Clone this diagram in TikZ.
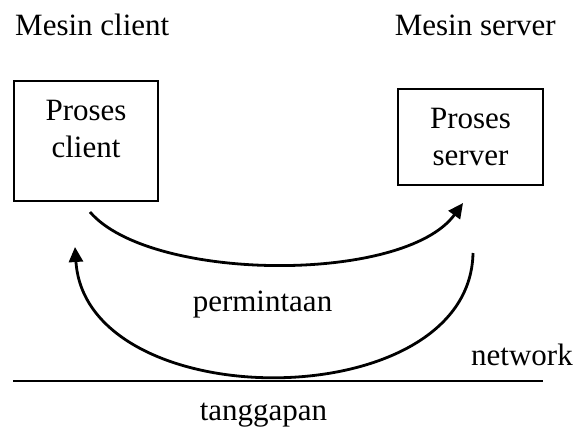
\documentclass[tikz,border=0pt]{standalone}
\usepackage{fontspec}
\setmainfont{Liberation Serif}
\usepackage{tikz}
\usetikzlibrary{arrows.meta}
\tikzset{
  box/.style={draw, line width=1.8pt, inner sep=0pt},
  lbl/.style={font=\fontsize{31}{37.5}\selectfont, inner sep=0pt},
  arc/.style={line width=2.8pt, -{Triangle[length=15pt,width=14pt]}},
  netline/.style={line width=2pt}
}

\begin{document}
\begin{tikzpicture}[x=1pt,y=-1pt]
  \useasboundingbox (0,0) rectangle (577,428);

  \node[lbl, anchor=base west] (clientmachine) at (15,35) {Mesin client};
  \node[lbl, anchor=base east] (servermachine) at (556,35) {Mesin server};

  \node[box, minimum width=144pt, minimum height=120pt] (client) at (86,141) {};
  \node[lbl, align=center, anchor=north] (clienttext) at (86,99.5) {Proses\\client};

  \node[box, minimum width=145pt, minimum height=96pt] (server) at (470.5,137) {};
  \node[lbl, align=center, anchor=north] (servertext) at (470.5,107.5) {Proses\\server};

  \coordinate (reqstart) at (90,212);
  \coordinate (reqend) at (463,203);
  \coordinate (resstart) at (473,253);
  \coordinate (resend) at (75,247);

  \draw[arc] (reqstart) .. controls (150,282) and (404,284) .. (reqend);
  \draw[arc] (resstart) .. controls (470,418) and (86,418) .. (resend);

  \node[lbl, anchor=base] (request) at (262.5,311) {permintaan};

  \coordinate (netleft) at (13,381);
  \coordinate (netright) at (543,381);
  \draw[netline] (netleft) -- (netright);
  \node[lbl, anchor=base east] (network) at (573,365) {network};

  \node[lbl, anchor=base] (response) at (263.5,420) {tanggapan};
\end{tikzpicture}
\end{document}
